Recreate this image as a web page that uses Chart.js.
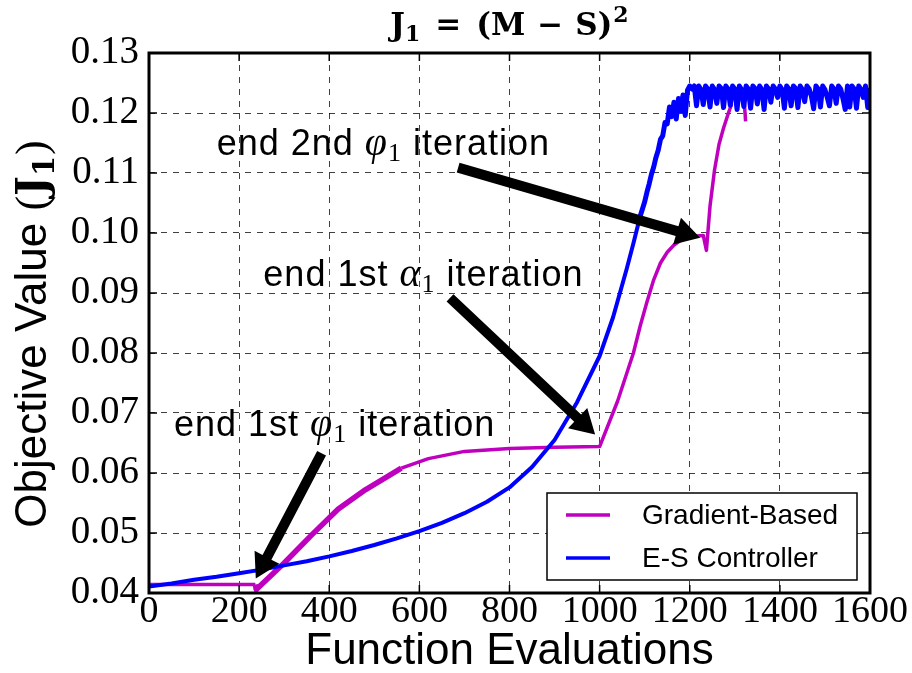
<!DOCTYPE html>
<html lang="en">

<head>
  <meta charset="utf-8" />
  <title>J1 objective value</title>
  <script src="https://cdn.jsdelivr.net/npm/chart.js"></script>
  <style>
    body {
      margin: 0;
      background: #fff;
    }
  </style>
</head>

<body>
  <canvas id="myChart" width="912" height="673"></canvas>

  <script>
    // Gradient-Based run (null = gap before the stray piece near 1320)
    const gradEvals = [0, 100, 200, 236, 238, 300, 360, 420, 480, 560, 620, 700, 800, 900, 1000,
      1040, 1075, 1090, 1105, 1120, 1135, 1150, 1165, 1180, 1200, 1230, 1237, 1245, 1255, 1265,
      1275, 1285, 1293, 1300, 1321, 1324];
    const gradValues = [0.0414, 0.0414, 0.0414, 0.0414, 0.0406, 0.0450, 0.0496, 0.0540, 0.0572, 0.0608,
      0.0624, 0.0636, 0.0641, 0.0643, 0.0644, 0.0720, 0.0800, 0.0845, 0.0885, 0.0922, 0.0950, 0.0968,
      0.0980, 0.0988, 0.0994, 0.0996, 0.0971, 0.1045, 0.1105, 0.1148, 0.1175, 0.1198, 0.1215, null,
      0.1218, 0.1186];

    // E-S Controller run
    const esEvals = [0, 50, 100, 150, 200, 250, 300, 350, 400, 450, 500, 550, 600, 650, 700, 750, 800,
      850, 900, 950, 1000, 1030, 1060, 1075,
      1090, 1100, 1105, 1110, 1115, 1120, 1125, 1130, 1135, 1140, 1145, 1150, 1155, 1160, 1165, 1170,
      1175, 1180, 1185, 1190, 1195,
      1200, 1205, 1210, 1215, 1220, 1225, 1230, 1235, 1240, 1245, 1250, 1255, 1260, 1265, 1270, 1275,
      1280, 1285, 1290, 1295, 1300, 1305, 1310, 1315, 1320, 1325, 1330, 1335, 1340, 1345, 1350, 1355,
      1360, 1365, 1370, 1375, 1380, 1385, 1390, 1395, 1400, 1405, 1410, 1415, 1420, 1425, 1430, 1435,
      1440, 1445, 1450, 1455, 1460, 1465, 1470, 1475, 1480, 1485, 1490, 1495, 1500, 1505, 1510, 1515,
      1520, 1525, 1530, 1535, 1540, 1545, 1550, 1555, 1560, 1565, 1570, 1575, 1580, 1585, 1590, 1595,
      1600];
    const esValues = [0.0411, 0.0416, 0.0422, 0.0427, 0.0433, 0.0439, 0.0446, 0.0453, 0.0461, 0.0470,
      0.0480, 0.0491, 0.0503, 0.0517, 0.0533, 0.0552, 0.0576, 0.0610, 0.0655, 0.0718, 0.0795, 0.0860,
      0.0940, 0.0983,
      0.1028, 0.1052, 0.1068, 0.1082, 0.1098, 0.1110, 0.1126, 0.1138, 0.1156, 0.1162, 0.1184, 0.1182,
      0.1210, 0.1194, 0.1218, 0.1190, 0.1224, 0.1204, 0.1230, 0.1196, 0.1238,
      0.1245, 0.1240, 0.1245, 0.1212, 0.1245, 0.1239, 0.1214, 0.1245, 0.1240, 0.1210, 0.1245, 0.1239,
      0.1216, 0.1245, 0.1241, 0.1209, 0.1245, 0.1240, 0.1213, 0.1245, 0.1240, 0.1206, 0.1245, 0.1239,
      0.1211, 0.1245, 0.1240, 0.1208, 0.1245, 0.1241, 0.1215, 0.1245, 0.1239, 0.1206, 0.1245, 0.1240,
      0.1218, 0.1245, 0.1240, 0.1226, 0.1245, 0.1239, 0.1208, 0.1245, 0.1240, 0.1212, 0.1245, 0.1241,
      0.1209, 0.1245, 0.1239, 0.1219, 0.1245, 0.1240, 0.1228, 0.1207, 0.1245, 0.1240, 0.1210, 0.1245,
      0.1239, 0.1226, 0.1212, 0.1245, 0.1240, 0.1216, 0.1245, 0.1240, 0.1224, 0.1206, 0.1245, 0.1210,
      0.1245, 0.1240, 0.1208, 0.1245, 0.1239, 0.1226, 0.1245, 0.1209, 0.1242];

    // annotations: text pieces, text centre (x, baseline), arrow tail and head, all in data units
    const noteText = [['end 1st ', 'φ', ' iteration'], ['end 1st ', 'α', ' iteration'], ['end 2nd ', 'φ', ' iteration']];
    const noteAt = [[412, 0.0661], [609, 0.0911], [520, 0.1130]];
    const arrowFrom = [[383, 0.0633], [668, 0.0892], [686, 0.1109]];
    const arrowTo = [[237, 0.0424], [990, 0.0664], [1223, 0.0992]];

    const SANS = '"Liberation Sans", Arial, sans-serif';
    const SERIF = '"Liberation Serif", "DejaVu Serif", serif';
    const MATHB = '"DejaVu Serif", serif';

    function drawArrow(ctx, x1, y1, x2, y2) {
      const len = Math.hypot(x2 - x1, y2 - y1);
      const ux = (x2 - x1) / len, uy = (y2 - y1) / len;
      const nx = -uy, ny = ux;
      const H = 24, W = 14, s = 5;
      const bx = x2 - ux * H, by = y2 - uy * H;
      ctx.beginPath();
      ctx.moveTo(x1 + nx * s, y1 + ny * s);
      ctx.lineTo(bx + nx * s, by + ny * s);
      ctx.lineTo(bx + nx * W, by + ny * W);
      ctx.lineTo(x2, y2);
      ctx.lineTo(bx - nx * W, by - ny * W);
      ctx.lineTo(bx - nx * s, by - ny * s);
      ctx.lineTo(x1 - nx * s, y1 - ny * s);
      ctx.closePath();
      ctx.fillStyle = '#000';
      ctx.fill();
    }

    // draws a row of [text, font, dy, gapAfter] pieces starting at x
    function drawPieces(ctx, pieces, x, y) {
      pieces.forEach(p => {
        ctx.font = p[1];
        ctx.fillText(p[0], x, y + p[2]);
        x += ctx.measureText(p[0]).width + p[3];
      });
    }
    function piecesWidth(ctx, pieces) {
      let w = 0;
      pieces.forEach(p => { ctx.font = p[1]; w += ctx.measureText(p[0]).width + p[3]; });
      return w;
    }

    const overlay = {
      id: 'overlay',
      afterDraw(chart) {
        const { ctx, chartArea: a, scales: { x, y } } = chart;
        ctx.save();
        ctx.fillStyle = '#000';
        ctx.textAlign = 'left';
        ctx.textBaseline = 'alphabetic';

        // title J1 = (M - S)^2
        const tb = 'bold 31px ' + MATHB, ts = 'bold 22px ' + MATHB;
        const title = [['J', tb, 0, 0], ['1', ts, 6, 15], ['=', tb, 0, 15], ['(M', tb, 0, 12],
          ['−', tb, 0, 12], ['S)', tb, 0, 1], ['2', ts, -13, 0]];
        drawPieces(ctx, title, (a.left + a.right) / 2 - piecesWidth(ctx, title) / 2, 35);

        // y axis label, rotated
        const ylab = [['Objective Value ', '44px ' + SANS, 0, 0], ['(', '44px ' + SERIF, 0, 0],
          ['J', 'bold 42px ' + MATHB, 0, 0], ['1', 'bold 29px ' + MATHB, 8, 1], [')', '44px ' + SERIF, 0, 0]];
        ctx.save();
        ctx.translate(46, 334);
        ctx.rotate(-Math.PI / 2);
        drawPieces(ctx, ylab, -piecesWidth(ctx, ylab) / 2, 0);
        ctx.restore();

        // arrows
        arrowFrom.forEach((f, i) => {
          drawArrow(ctx, x.getPixelForValue(f[0]), y.getPixelForValue(f[1]),
            x.getPixelForValue(arrowTo[i][0]), y.getPixelForValue(arrowTo[i][1]));
        });

        // annotation text: sans words, italic serif symbol with subscript 1
        const fText = '36px ' + SANS, fSym = 'italic 40px ' + SERIF, fSub = '26px ' + SERIF;
        ctx.letterSpacing = '1px';
        noteText.forEach((t, i) => {
          const row = [[t[0], fText, 0, 0], [t[1], fSym, 0, 0], ['1', fSub, 6, 0], [t[2], fText, 0, 0]];
          drawPieces(ctx, row, x.getPixelForValue(noteAt[i][0]) - piecesWidth(ctx, row) / 2,
            y.getPixelForValue(noteAt[i][1]));
        });
        ctx.letterSpacing = '0px';

        // frame and inward ticks
        ctx.strokeStyle = '#000';
        ctx.lineWidth = 1.5;
        ctx.beginPath();
        x.ticks.forEach(t => {
          const px = x.getPixelForValue(t.value);
          ctx.moveTo(px, a.bottom); ctx.lineTo(px, a.bottom - 8);
          ctx.moveTo(px, a.top); ctx.lineTo(px, a.top + 8);
        });
        y.ticks.forEach(t => {
          const py = y.getPixelForValue(t.value);
          ctx.moveTo(a.left, py); ctx.lineTo(a.left + 8, py);
          ctx.moveTo(a.right, py); ctx.lineTo(a.right - 8, py);
        });
        ctx.stroke();
        ctx.lineWidth = 3;
        ctx.strokeRect(a.left, a.top, a.right - a.left, a.bottom - a.top);

        // legend box, lower right inside the axes
        const bx0 = a.right - 323, by0 = a.bottom - 100, bw = 310, bh = 87;
        ctx.fillStyle = '#fff';
        ctx.fillRect(bx0, by0, bw, bh);
        ctx.lineWidth = 1.5;
        ctx.strokeRect(bx0, by0, bw, bh);
        ctx.font = '28px ' + SANS;
        ctx.textBaseline = 'middle';
        chart.data.datasets.forEach((ds, i) => {
          const ly = by0 + 22 + i * 43;
          ctx.strokeStyle = ds.borderColor;
          ctx.lineWidth = 3.5;
          ctx.beginPath();
          ctx.moveTo(bx0 + 19, ly); ctx.lineTo(bx0 + 63, ly);
          ctx.stroke();
          ctx.fillStyle = '#000';
          ctx.fillText(ds.label, bx0 + 95, ly + 1);
        });
        ctx.restore();
      }
    };

    const data = {
      datasets: [{
        label: 'Gradient-Based',
        data: gradEvals.map((e, i) => ({ x: e, y: gradValues[i] })),
        borderColor: '#bf00bf',
        borderWidth: 3.5,
        segment: {
          borderWidth: c => (c.p0.parsed.x >= 236 && c.p1.parsed.x <= 560) ? 5.5 : 3.5
        },
        borderJoinStyle: 'round',
        tension: 0,
        pointRadius: 0,
        spanGaps: false,
        order: 1
      }, {
        label: 'E-S Controller',
        data: esEvals.map((e, i) => ({ x: e, y: esValues[i] })),
        borderColor: '#0000ff',
        borderWidth: 4,
        segment: {
          borderWidth: c => c.p0.parsed.x >= 1090 ? 5 : 4
        },
        borderJoinStyle: 'round',
        tension: 0,
        pointRadius: 0,
        order: 0
      }]
    };

    const config = {
      type: 'line',
      data: data,
      options: {
        responsive: false,
        animation: false,
        devicePixelRatio: 1,
        events: [],
        layout: { padding: { left: 0, right: 42, top: 53, bottom: 0 } },
        plugins: {
          legend: { display: false },
          tooltip: { enabled: false }
        },
        scales: {
          x: {
            type: 'linear',
            min: 0,
            max: 1600,
            afterFit: s => { s.height = 80; },
            ticks: {
              stepSize: 200,
              autoSkip: false,
              maxRotation: 0,
              padding: 0,
              color: '#000',
              font: { family: SERIF, size: 38, lineHeight: 1 },
              callback: v => String(v)
            },
            grid: { color: 'rgba(0,0,0,0.75)', lineWidth: 1, drawTicks: false },
            border: { display: false, dash: [6, 6] },
            title: {
              display: true,
              text: 'Function Evaluations',
              color: '#000',
              font: { family: SANS, size: 44, lineHeight: 0.9 },
              padding: { top: 0, bottom: 1 }
            }
          },
          y: {
            min: 0.04,
            max: 0.13,
            afterFit: s => { s.width = 149; },
            ticks: {
              stepSize: 0.01,
              padding: 10,
              color: '#000',
              font: { family: SERIF, size: 39 },
              callback: v => v.toFixed(2)
            },
            grid: { color: 'rgba(0,0,0,0.75)', lineWidth: 1, drawTicks: false },
            border: { display: false, dash: [6, 6] }
          }
        }
      },
      plugins: [overlay]
    };

    const myChart = new Chart(document.getElementById('myChart'), config);
  </script>
</body>

</html>
